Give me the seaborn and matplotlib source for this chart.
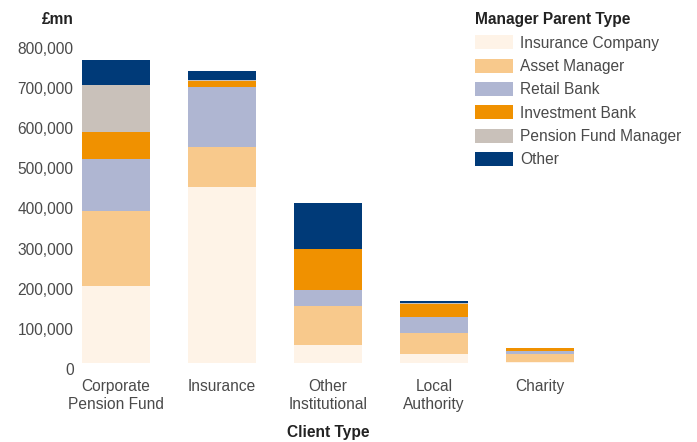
import matplotlib
matplotlib.use("Agg")
import matplotlib.pyplot as plt
from matplotlib.patches import Patch
from matplotlib.transforms import ScaledTranslation
import numpy as np
import pandas as pd
import seaborn as sns

clients = ["Corporate\nPension Fund", "Insurance", "Other\nInstitutional", "Local\nAuthority", "Charity"]
managers = ["Insurance Company", "Asset Manager", "Retail Bank", "Investment Bank", "Pension Fund Manager", "Other"]
insurance_company = [193500, 440000, 45000, 22000, 4000]
asset_manager = [186000, 100000, 99000, 54000, 19000]
retail_bank = [130000, 148000, 40000, 40000, 7500]
investment_bank = [67000, 17000, 100000, 33000, 7500]
pension_fund_manager = [117000, 2000, 0, 2500, 0]
other = [62000, 23000, 115000, 4000, 0]
colors = ["#FEF3E7", "#F8C98C", "#AFB6D2", "#F09100", "#C9C1BA", "#003A78"]
yticks = [0, 100000, 200000, 300000, 400000, 500000, 600000, 700000, 800000]

series = [insurance_company, asset_manager, retail_bank, investment_bank, pension_fund_manager, other]

sns.set_theme(style="white")
plt.rcParams["font.family"] = ["Liberation Sans", "DejaVu Sans"]

FS = 11.2
fig = plt.figure(figsize=(6.97, 4.42), dpi=100)
ax = fig.add_axes([73.6 / 697, (442 - 363.3) / 442, 508.8 / 697, 320.7 / 442])

cum = np.cumsum(np.array(series), axis=0)
for i in range(len(managers) - 1, -1, -1):
    df = pd.DataFrame({"client": clients, "value": cum[i]})
    sns.barplot(data=df, x="client", y="value", color=colors[i], width=0.64,
                linewidth=0, saturation=1, ax=ax, errorbar=None)

ax.set_xlim(-0.4, 4.4)
ax.set_ylim(0, 800000)
ax.set_yticks(yticks)
ax.set_yticklabels([f"{v:,}" for v in yticks])
for s in ax.spines.values():
    s.set_visible(False)
ax.tick_params(axis="both", length=0, labelsize=FS, labelcolor="#4a4a4a")
ax.tick_params(axis="y", pad=0)
ax.tick_params(axis="x", pad=11)
off = ScaledTranslation(0, -5.5 / 100, fig.dpi_scale_trans)
for lab in ax.get_yticklabels():
    lab.set_transform(lab.get_transform() + off)
for lab in ax.get_xticklabels():
    lab.set_linespacing(1.3)
ax.set_ylabel("")
ax.set_xlabel("Client Type", fontsize=FS, fontweight="bold", color="#222222", labelpad=9)

fig.text(74 / 697, 1 - 20 / 442, "£mn", ha="right", va="center", fontsize=FS,
         fontweight="bold", color="#222222")

handles = [Patch(facecolor=c, edgecolor="none") for c in colors]
leg = fig.legend(handles, managers, loc="upper left", bbox_to_anchor=(469 / 697, 1 - 6 / 442),
                 frameon=False, fontsize=FS, title="Manager Parent Type",
                 title_fontproperties={"weight": "bold", "size": FS},
                 handlelength=2.45, handleheight=1.0, handletextpad=0.45,
                 labelspacing=0.52, alignment="left", borderaxespad=0)
for t in leg.get_texts():
    t.set_color("#4a4a4a")
leg.get_title().set_color("#222222")

fig.savefig("out.png", dpi=100)
